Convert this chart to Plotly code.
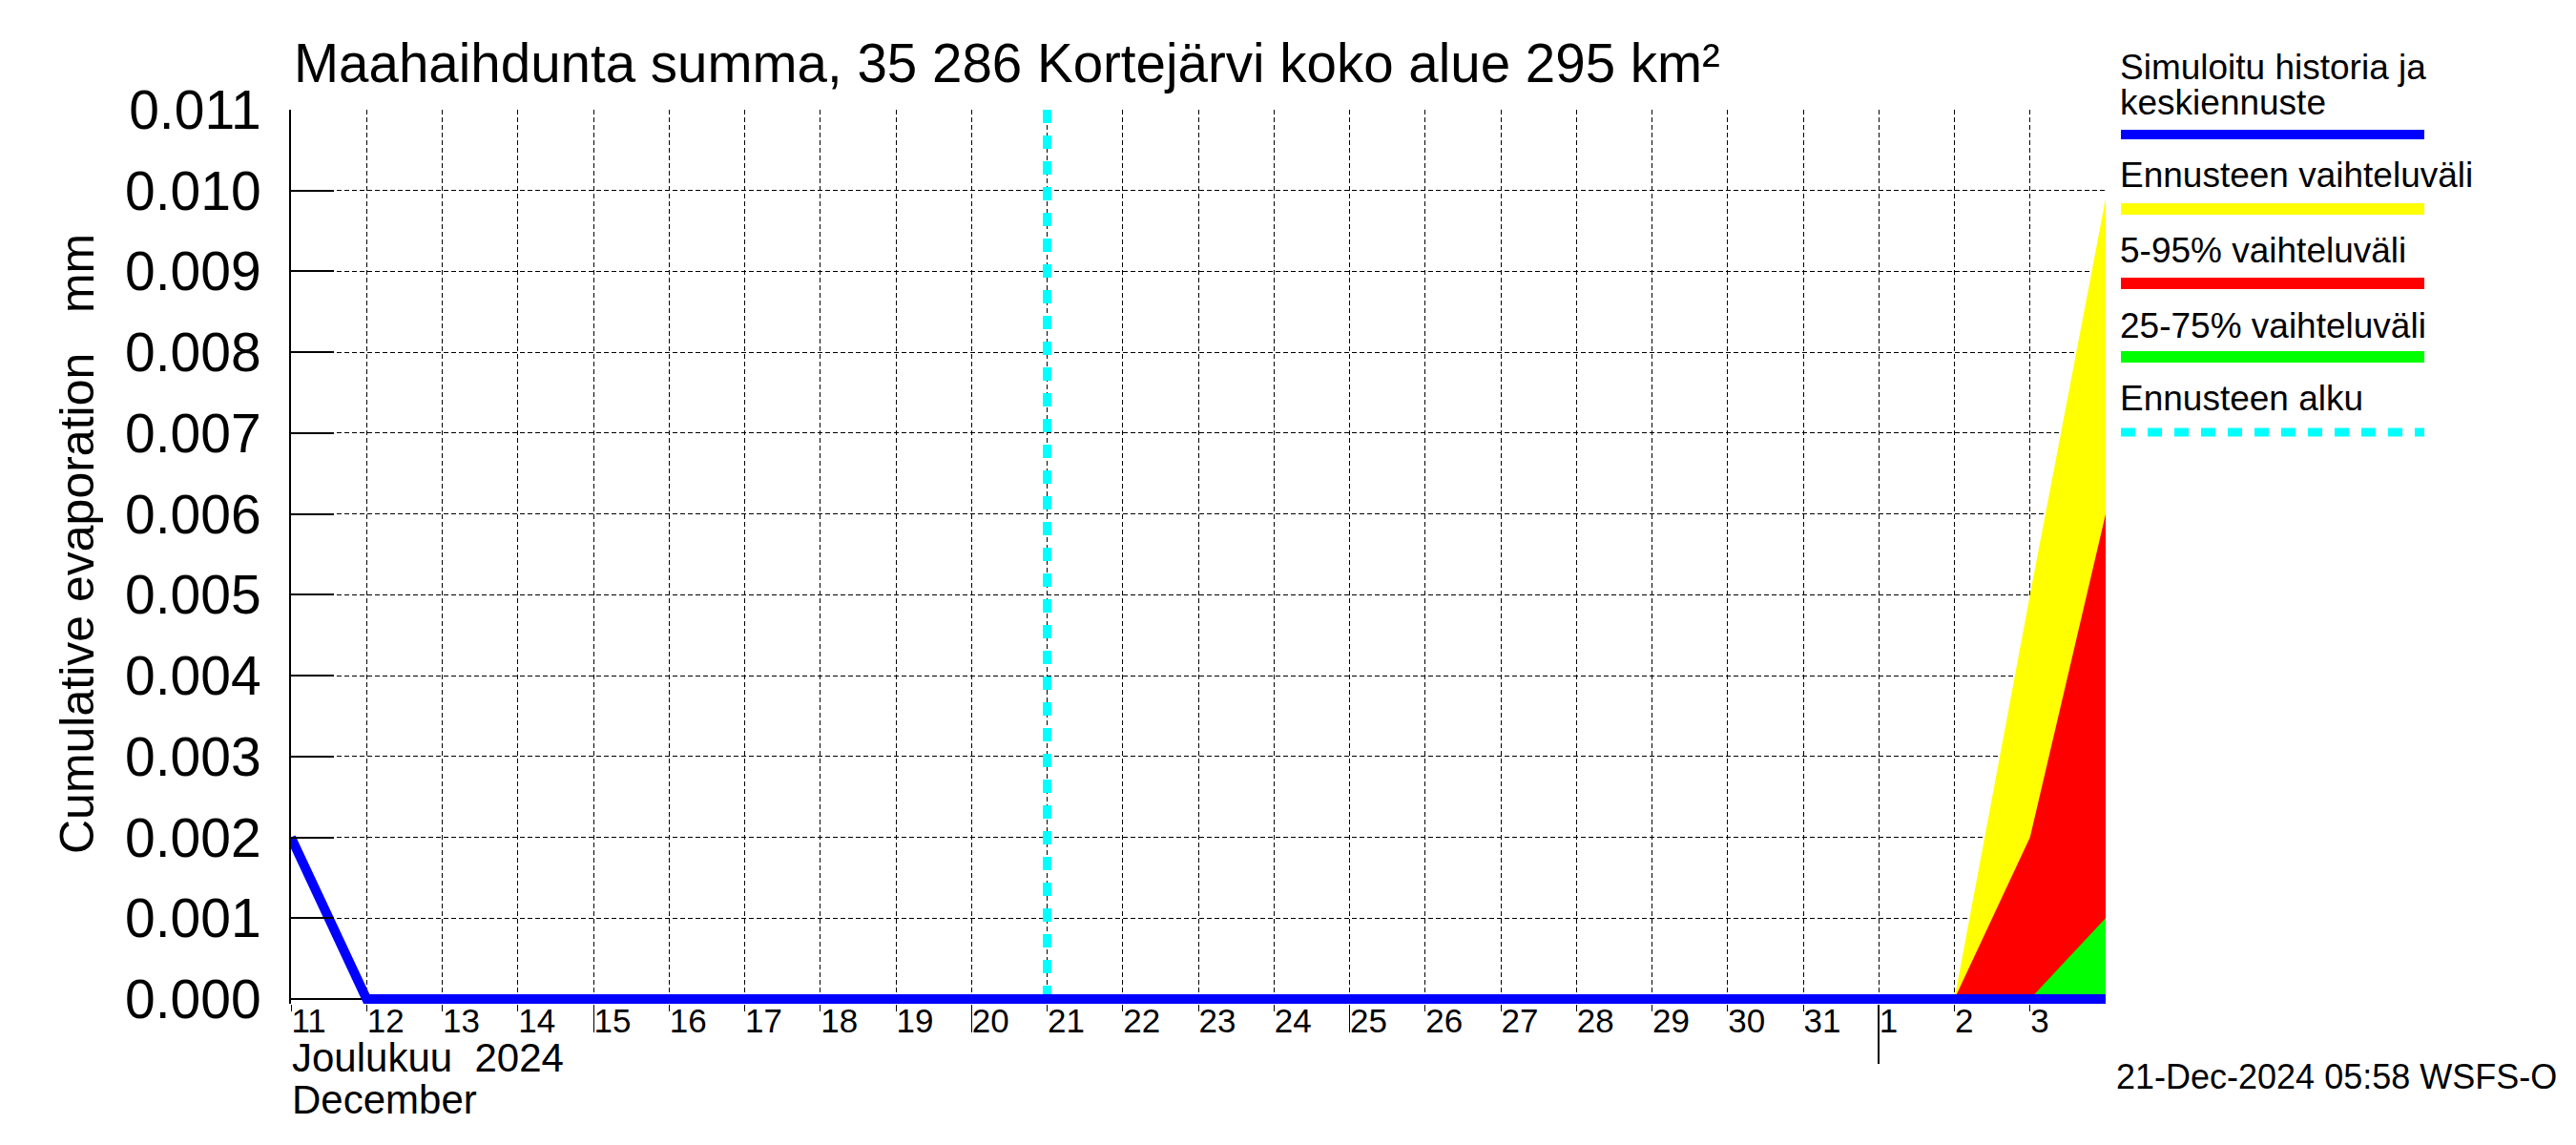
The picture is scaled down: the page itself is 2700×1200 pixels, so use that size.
import plotly.graph_objects as go

# ---------------- data ----------------
sim_dates = ['2024-12-11', '2024-12-12', '2024-12-13', '2024-12-14', '2024-12-15',
             '2024-12-16', '2024-12-17', '2024-12-18', '2024-12-19', '2024-12-20',
             '2024-12-21', '2024-12-22', '2024-12-23', '2024-12-24', '2024-12-25',
             '2024-12-26', '2024-12-27', '2024-12-28', '2024-12-29', '2024-12-30',
             '2024-12-31', '2025-01-01', '2025-01-02', '2025-01-03', '2025-01-04']
sim_values = [0.002, 0.0, 0.0, 0.0, 0.0, 0.0, 0.0, 0.0, 0.0, 0.0,
              0.0, 0.0, 0.0, 0.0, 0.0, 0.0, 0.0, 0.0, 0.0, 0.0,
              0.0, 0.0, 0.0, 0.0, 0.0]

fc_dates = ['2024-12-21', '2024-12-22', '2024-12-23', '2024-12-24', '2024-12-25',
            '2024-12-26', '2024-12-27', '2024-12-28', '2024-12-29', '2024-12-30',
            '2024-12-31', '2025-01-01', '2025-01-02', '2025-01-03', '2025-01-04']
fc_full_max = [0, 0, 0, 0, 0, 0, 0, 0, 0, 0, 0, 0, 0, 0.005, 0.0099]
fc_p95 = [0, 0, 0, 0, 0, 0, 0, 0, 0, 0, 0, 0, 0, 0.002, 0.006]
fc_p75 = [0, 0, 0, 0, 0, 0, 0, 0, 0, 0, 0, 0, 0, 0.0, 0.001]

forecast_start = '2024-12-21'

x_start, x_end = '2024-12-11', '2025-01-04'
grid_days = sim_dates
tick_days = sim_dates[:-1]
tick_labels = ['11', '12', '13', '14', '15', '16', '17', '18', '19', '20', '21', '22',
               '23', '24', '25', '26', '27', '28', '29', '30', '31', '1', '2', '3']
five_day_ticks = ['2024-12-15', '2024-12-20', '2024-12-25']
month_ticks = ['2025-01-01']

y_ticks = [0.0, 0.001, 0.002, 0.003, 0.004, 0.005, 0.006, 0.007, 0.008, 0.009, 0.010, 0.011]

title_text = 'Maahaihdunta summa, 35 286 Kortejärvi koko alue 295 km²'
y_title = 'Cumulative evaporation\u00a0\u00a0 mm'
month_fi = 'Joulukuu\u00a0 2024'
month_en = 'December'
stamp = '21-Dec-2024 05:58 WSFS-O'

legend_items = [
    ('Ennusteen vaihteluväli', '#FFFF00'),
    ('5-95% vaihteluväli', '#FF0000'),
    ('25-75% vaihteluväli', '#00FF00'),
]

# ---------------- geometry (pixels) ----------------
PAGE_MARGIN = 8  # default body margin of the html page
W, H = 2700, 1200
L, R, T, Y0 = 305, 2207, 115, 1047     # Y0: pixel row of value 0
EXTRA = 5                               # room below zero so the thick line is not clipped
B = Y0 + EXTRA
PW, PH = R - L, B - T
FW, FH = W - 2 * PAGE_MARGIN, H - 2 * PAGE_MARGIN
y_lo = y_ticks[0] - (y_ticks[-1] - y_ticks[0]) * EXTRA / (Y0 - T)


def px(xp):
    return (xp - L) / PW


def py(yp):
    return (B - yp) / PH


FONT = 'Liberation Sans, Arial, Helvetica, sans-serif'

fig = go.Figure()

fig.add_trace(go.Scatter(x=fc_dates, y=fc_full_max, mode='lines', fill='tozeroy',
                         fillcolor='#FFFF00', line=dict(width=0, color='#FFFF00'),
                         showlegend=False, hoverinfo='skip'))
fig.add_trace(go.Scatter(x=fc_dates, y=fc_p95, mode='lines', fill='tozeroy',
                         fillcolor='#FF0000', line=dict(width=0, color='#FF0000'),
                         showlegend=False, hoverinfo='skip'))
fig.add_trace(go.Scatter(x=fc_dates, y=fc_p75, mode='lines', fill='tozeroy',
                         fillcolor='#00FF00', line=dict(width=0, color='#00FF00'),
                         showlegend=False, hoverinfo='skip'))
fig.add_trace(go.Scatter(x=[forecast_start, forecast_start], y=[y_ticks[0], y_ticks[-1]],
                         mode='lines', line=dict(color='#00FFFF', width=9, dash='14px,13px'),
                         showlegend=False, hoverinfo='skip'))
fig.add_trace(go.Scatter(x=sim_dates, y=sim_values, mode='lines',
                         line=dict(color='#0000FF', width=10),
                         showlegend=False, hoverinfo='skip'))

grid_style = dict(showgrid=True, gridcolor='black', gridwidth=1, griddash='5px,3px')

fig.update_layout(
    width=FW, height=FH,
    margin=dict(l=L - PAGE_MARGIN, r=FW - (R - PAGE_MARGIN), t=T - PAGE_MARGIN,
                b=FH - (B - PAGE_MARGIN), pad=0),
    paper_bgcolor='white', plot_bgcolor='white',
    font=dict(family=FONT, color='black'),
    xaxis=dict(type='date', range=[x_start, x_end], tickmode='array',
               tickvals=grid_days, showticklabels=False, ticks='',
               showline=False, zeroline=False,
               **grid_style),
    xaxis2=dict(type='date', overlaying='x', anchor='y', matches='x', range=[x_start, x_end],
                tickmode='array', tickvals=tick_days, ticktext=tick_labels,
                ticks='outside', ticklen=7, tickwidth=1, tickcolor='black',
                ticklabelposition='outside right', ticklabelstandoff=-13,
                tickfont=dict(size=35, family=FONT),
                showgrid=False, showline=False, zeroline=False),
    xaxis3=dict(type='date', overlaying='x', anchor='y', matches='x', range=[x_start, x_end],
                tickmode='array', tickvals=five_day_ticks, showticklabels=False,
                ticks='outside', ticklen=29, tickwidth=1, tickcolor='black',
                showgrid=False, showline=False, zeroline=False),
    xaxis4=dict(type='date', overlaying='x', anchor='y', matches='x', range=[x_start, x_end],
                tickmode='array', tickvals=month_ticks, showticklabels=False,
                ticks='outside', ticklen=62, tickwidth=2, tickcolor='black',
                showgrid=False, showline=False, zeroline=False),
    yaxis=dict(range=[y_lo, y_ticks[-1]], tickmode='array', tickvals=y_ticks,
               tickformat='.3f', ticks='inside', ticklen=45, tickwidth=2, tickcolor='black',
               ticklabelstandoff=18,
               tickfont=dict(size=57, family=FONT), showline=True, linecolor='black',
               linewidth=2, zeroline=True, zerolinecolor='black', zerolinewidth=2,
               **grid_style),
)

# invisible traces to activate overlay axes
for ax in ['x2', 'x3', 'x4']:
    fig.add_trace(go.Scatter(x=[x_start], y=[y_ticks[0]], xaxis=ax, yaxis='y', mode='markers',
                             marker=dict(opacity=0), showlegend=False, hoverinfo='skip'))

ann = []
ann.append(dict(text=title_text, xref='paper', yref='paper', x=px(306), y=py(67),
                xanchor='left', yanchor='middle', showarrow=False,
                font=dict(size=56.5, family=FONT)))
ann.append(dict(text=y_title, xref='paper', yref='paper', x=px(81), y=py(570),
                xanchor='center', yanchor='middle', textangle=-90, showarrow=False,
                font=dict(size=50, family=FONT)))
ann.append(dict(text=month_fi, xref='paper', yref='paper', x=px(304), y=py(1108),
                xanchor='left', yanchor='middle', showarrow=False,
                font=dict(size=42, family=FONT)))
ann.append(dict(text=month_en, xref='paper', yref='paper', x=px(304), y=py(1152),
                xanchor='left', yanchor='middle', showarrow=False,
                font=dict(size=42, family=FONT)))
ann.append(dict(text=stamp, xref='paper', yref='paper', x=px(2216), y=py(1128),
                xanchor='left', yanchor='middle', showarrow=False,
                font=dict(size=36, family=FONT)))

# custom legend
LEG_FONT = 37
lx0, lx1 = 2223, 2541
ann.append(dict(text='Simuloitu historia ja', xref='paper', yref='paper', x=px(lx0 - 3), y=py(71),
                xanchor='left', yanchor='middle', showarrow=False, font=dict(size=LEG_FONT, family=FONT)))
ann.append(dict(text='keskiennuste', xref='paper', yref='paper', x=px(lx0 - 3), y=py(107),
                xanchor='left', yanchor='middle', showarrow=False, font=dict(size=LEG_FONT, family=FONT)))
shapes = [dict(type='line', xref='paper', yref='paper', x0=px(lx0), x1=px(lx1), y0=py(141), y1=py(141),
               line=dict(color='#0000FF', width=10))]
text_y = [183, 262, 341]
line_y = [219, 297, 374]
for (lbl, col), ty, ly in zip(legend_items, text_y, line_y):
    ann.append(dict(text=lbl, xref='paper', yref='paper', x=px(lx0 - 3), y=py(ty),
                    xanchor='left', yanchor='middle', showarrow=False, font=dict(size=LEG_FONT, family=FONT)))
    shapes.append(dict(type='line', xref='paper', yref='paper', x0=px(lx0), x1=px(lx1), y0=py(ly), y1=py(ly),
                       line=dict(color=col, width=12)))
ann.append(dict(text='Ennusteen alku', xref='paper', yref='paper', x=px(lx0 - 3), y=py(417),
                xanchor='left', yanchor='middle', showarrow=False, font=dict(size=LEG_FONT, family=FONT)))
shapes.append(dict(type='line', xref='paper', yref='paper', x0=px(lx0), x1=px(lx1), y0=py(453), y1=py(453),
                   line=dict(color='#00FFFF', width=9, dash='15px,13px')))

fig.update_layout(annotations=ann, shapes=shapes)

fig.write_html('out.html')
